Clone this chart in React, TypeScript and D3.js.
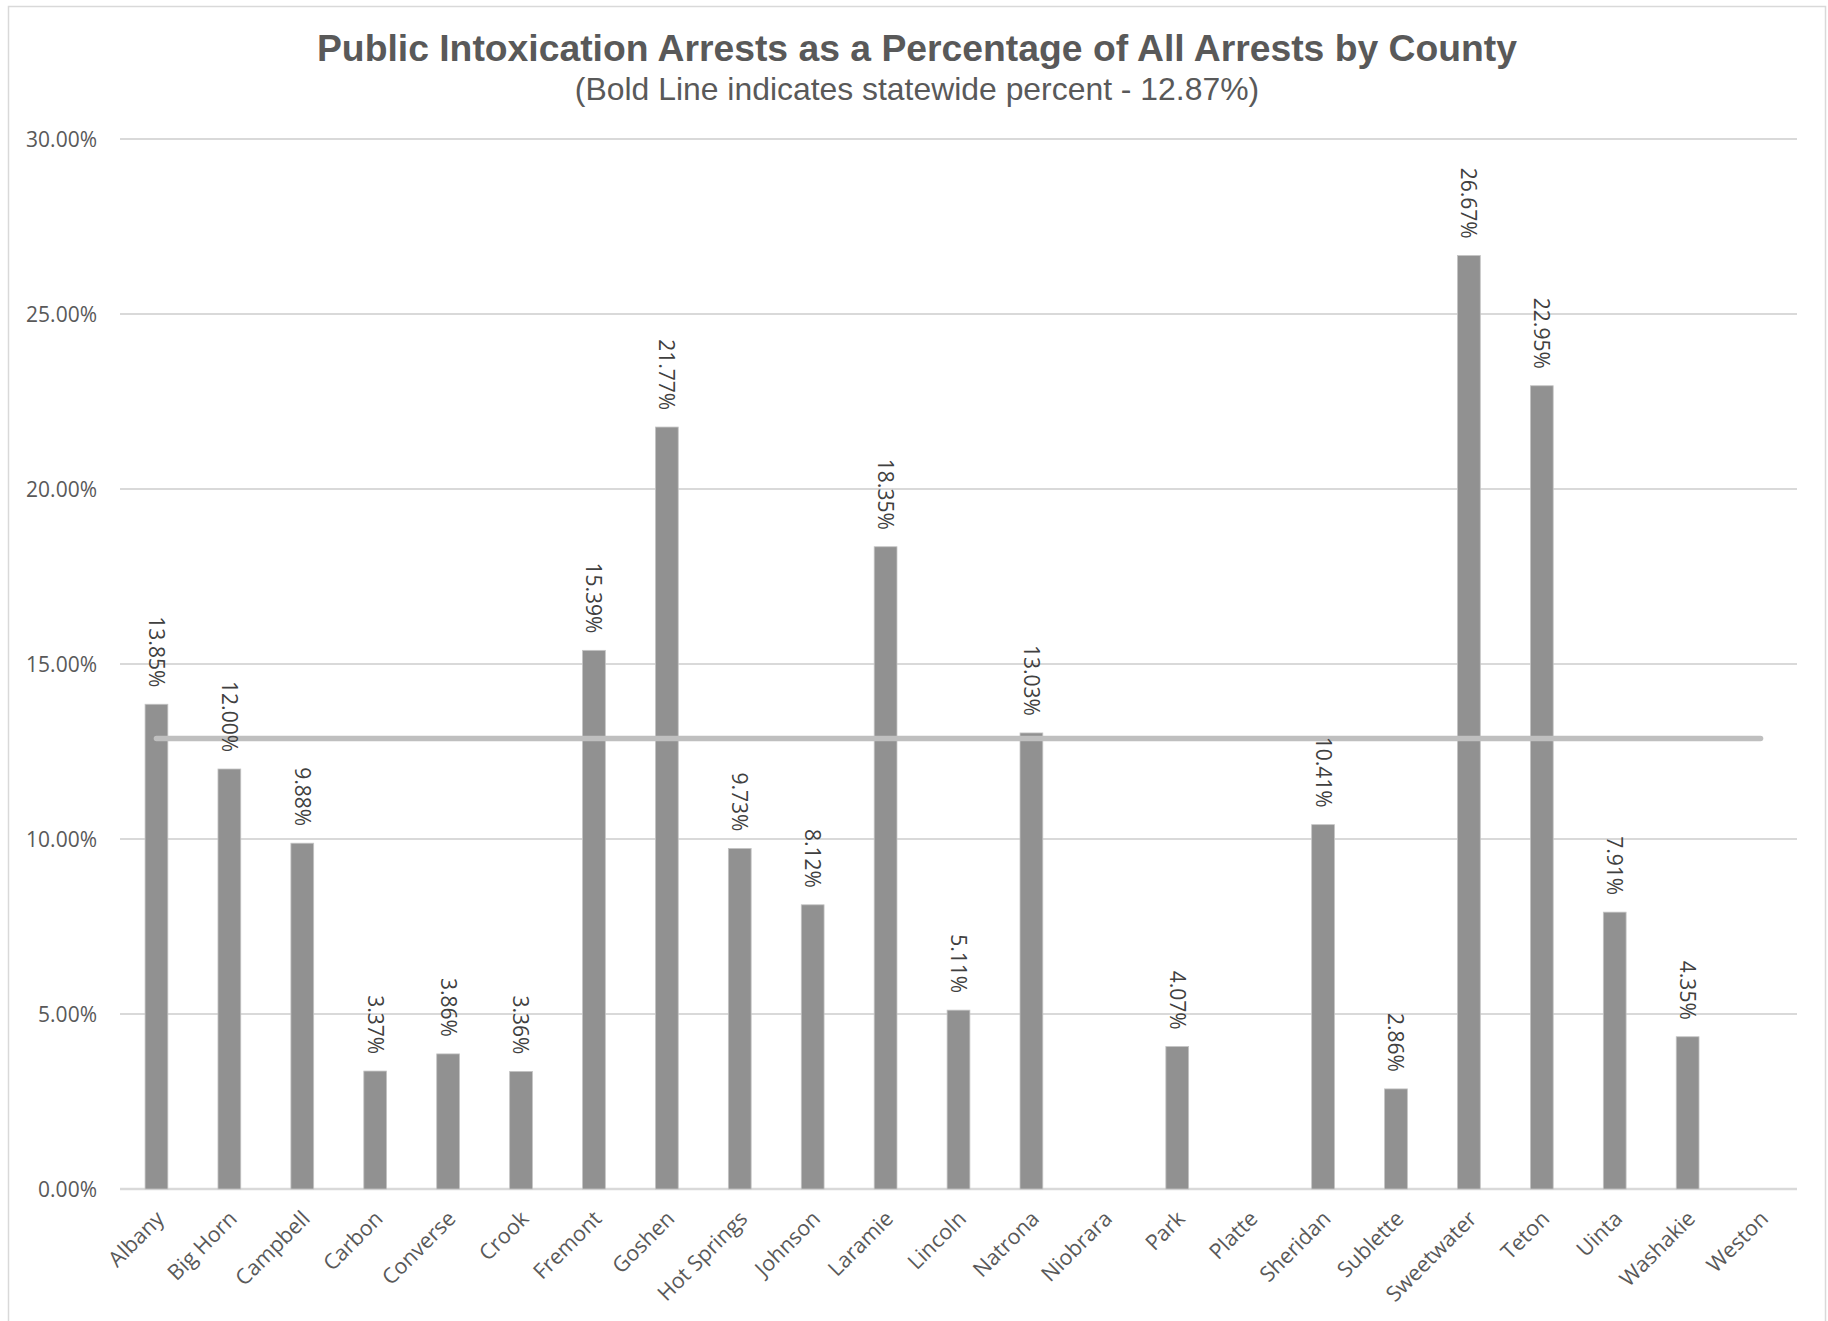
import React from "react";
import * as d3 from "d3";

const counties: string[] = [
  "Albany", "Big Horn", "Campbell", "Carbon", "Converse", "Crook", "Fremont",
  "Goshen", "Hot Springs", "Johnson", "Laramie", "Lincoln", "Natrona", "Niobrara",
  "Park", "Platte", "Sheridan", "Sublette", "Sweetwater", "Teton", "Uinta",
  "Washakie", "Weston",
];
const percents: (number | null)[] = [
  13.85, 12.0, 9.88, 3.37, 3.86, 3.36, 15.39,
  21.77, 9.73, 8.12, 18.35, 5.11, 13.03, null,
  4.07, null, 10.41, 2.86, 26.67, 22.95, 7.91,
  4.35, null,
];
const statewide = 12.87;
const yTicks: number[] = [0, 5, 10, 15, 20, 25, 30];
const title = "Public Intoxication Arrests as a Percentage of All Arrests by County";
const subtitle = "(Bold Line indicates statewide percent - 12.87%)";

const W = 1828;
const H = 1321;
const plot = { left: 120, right: 1797, top: 139, bottom: 1189 };
const FONT = "'Open Sans', sans-serif";

export default function App() {
  const x = d3
    .scaleBand<string>()
    .domain(counties)
    .range([plot.left, plot.right])
    .paddingInner(0)
    .paddingOuter(0);
  const y = d3.scaleLinear().domain([0, 30]).range([plot.bottom, plot.top]);
  const bw = x.bandwidth() / 3.2;
  const cx = (c: string) => (x(c) as number) + x.bandwidth() / 2;

  const linePath = d3.line<number>()(
    [
      [cx(counties[0]), y(statewide)],
      [cx(counties[counties.length - 1]), y(statewide)],
    ] as any
  );

  return (
    <svg
      width={W}
      height={H}
      style={{ position: "absolute", left: 0, top: 0, background: "#fff" }}
    >
      <rect x={0} y={0} width={W} height={H} fill="#fff" />
      <rect
        x={8.5}
        y={6.5}
        width={1817}
        height={1330}
        fill="none"
        stroke="#d9d9d9"
        strokeWidth={1.5}
      />
      <text
        x={917}
        y={61}
        textAnchor="middle"
        fontFamily="'Liberation Sans', Arial, sans-serif"
        fontWeight="bold"
        fontSize={37.3}
        fill="#595959"
      >
        {title}
      </text>
      <text
        x={917}
        y={100}
        textAnchor="middle"
        fontFamily="'Liberation Sans', Arial, sans-serif"
        fontSize={31.9}
        fill="#595959"
      >
        {subtitle}
      </text>

      {yTicks.map((t) => (
        <g key={t}>
          <line
            x1={plot.left}
            x2={plot.right}
            y1={y(t)}
            y2={y(t)}
            stroke="#d9d9d9"
            strokeWidth={t === 0 ? 2.5 : 2}
          />
          <text
            x={97}
            y={y(t)}
            dy="0.36em"
            textAnchor="end"
            fontFamily={FONT}
            fontSize={21}
            fill="#595959"
          >
            {t.toFixed(2) + "%"}
          </text>
        </g>
      ))}

      {counties.map((c, i) => {
        const v = percents[i];
        if (v == null) return null;
        return (
          <rect
            key={c}
            x={cx(c) - bw / 2}
            y={y(v)}
            width={bw}
            height={y(0) - y(v)}
            fill="#919191"
            stroke="#c4c4c4"
            strokeWidth={0.8}
          />
        );
      })}

      <path
        d={linePath || ""}
        stroke="#bfbfbf"
        strokeWidth={5.5}
        strokeLinecap="round"
        fill="none"
      />

      {counties.map((c, i) => {
        const v = percents[i];
        if (v == null) return null;
        const px = cx(c);
        const py = y(v) - 17;
        return (
          <text
            key={c}
            transform={`translate(${px},${py}) rotate(90)`}
            textAnchor="end"
            dy="0.36em"
            fontFamily={FONT}
            fontSize={21}
            fill="#404040"
          >
            {v.toFixed(2) + "%"}
          </text>
        );
      })}

      {counties.map((c) => {
        const px = cx(c) + 9;
        const py = plot.bottom + 31;
        return (
          <text
            key={c}
            transform={`translate(${px},${py}) rotate(-45)`}
            textAnchor="end"
            fontFamily={FONT}
            fontSize={21.5}
            fill="#595959"
          >
            {c}
          </text>
        );
      })}
    </svg>
  );
}
